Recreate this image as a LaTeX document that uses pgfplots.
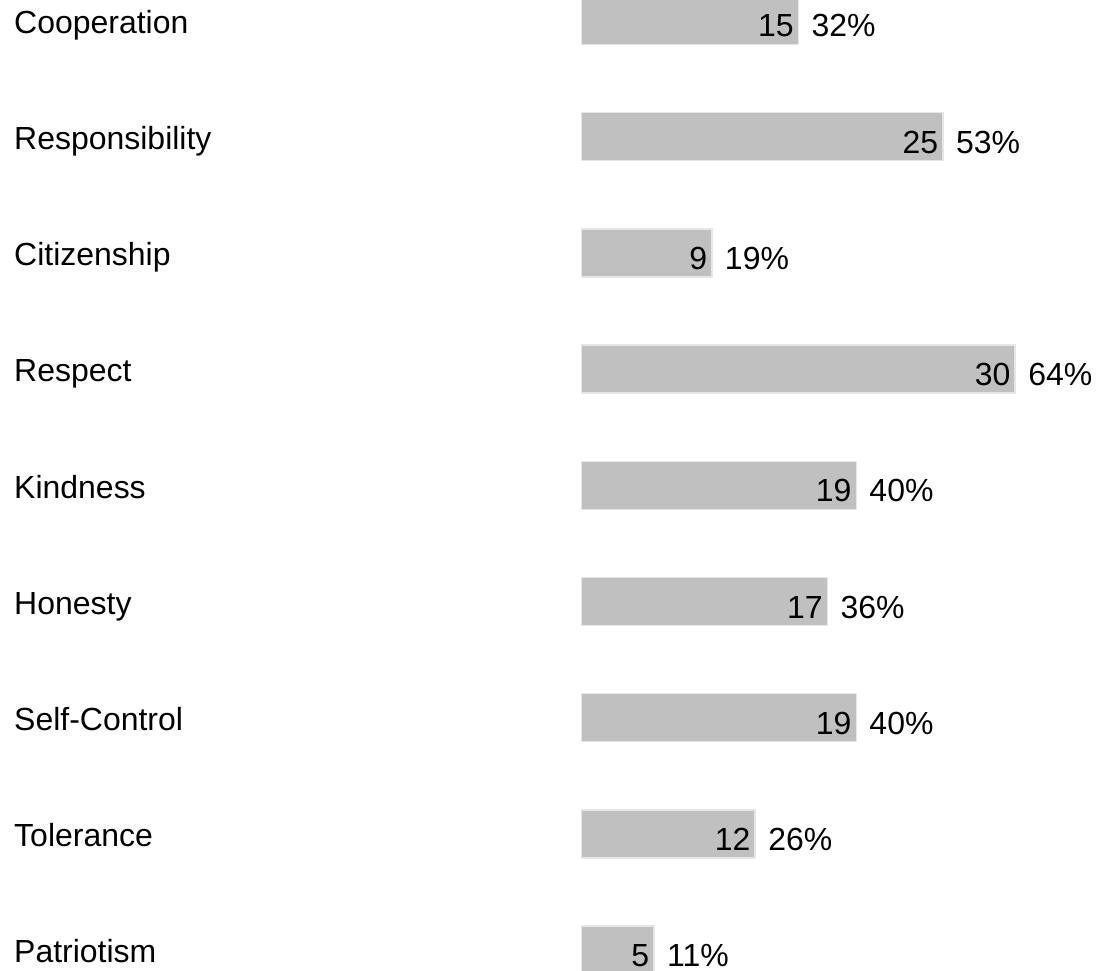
\documentclass[border=0pt]{standalone}
\usepackage{fontspec}
\setmainfont{Liberation Sans}
\usepackage{pgfplots}
\usepackage{pgfplotstable}
\pgfplotsset{compat=1.18}

\definecolor{barfill}{RGB}{192,192,192}
\definecolor{baredge}{RGB}{230,230,230}
\newcommand{\lblfont}{\fontsize{32.1}{38}\selectfont}

% count and share of 47 answers, top to bottom
\pgfplotstableread{
idx count pct
0 15 32
1 25 53
2 9 19
3 30 64
4 19 40
5 17 36
6 19 40
7 12 26
8 5 11
}\values

\begin{document}
\begin{tikzpicture}
\begin{axis}[
  scale only axis,
  width=1097bp, height=970bp,
  xmin=-40.26, xmax=35.66,
  ymin=-0.1764, ymax=8.171,
  y dir=reverse,
  axis line style={draw=none},
  tick style={draw=none},
  xtick=\empty,
  ytick={0,...,8},
  yticklabels={Cooperation,Responsibility,Citizenship,Respect,Kindness,Honesty,Self-Control,Tolerance,Patriotism},
  yticklabel style={font=\lblfont, anchor=base west, inner sep=0pt, xshift=14bp, yshift=-12.7bp},
]
\addplot[xbar, bar width=0.413, fill=barfill, draw=baredge, line width=1.5bp,
  point meta=explicit symbolic,
  nodes near coords={\pgfplotspointmeta},
  every node near coord/.append style={font=\lblfont, anchor=base east, inner sep=0pt, xshift=-4bp, yshift=-16.5bp, text=black},
] table[x=count, y=idx, meta=count] {\values};
\addplot[draw=none, mark=none,
  point meta=explicit symbolic,
  nodes near coords={\pgfplotspointmeta\%},
  every node near coord/.append style={font=\lblfont, anchor=base west, inner sep=0pt, xshift=13bp, yshift=-16.5bp, text=black},
] table[x=count, y=idx, meta=pct] {\values};
\end{axis}
\pgfresetboundingbox
\useasboundingbox (current axis.south west) rectangle (current axis.north east);
\end{tikzpicture}
\end{document}
